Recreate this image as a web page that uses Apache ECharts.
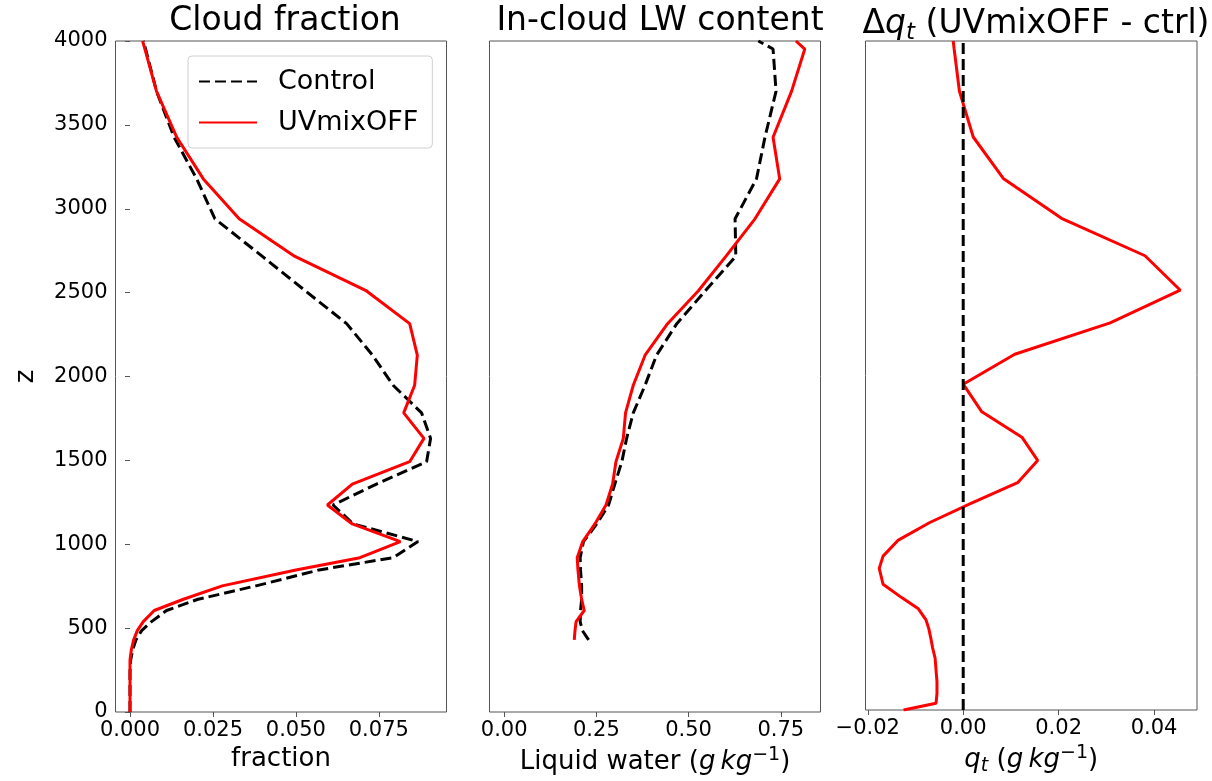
<!DOCTYPE html>
<html>
<head>
<meta charset="utf-8">
<script src="https://cdn.jsdelivr.net/npm/echarts@6/dist/echarts.min.js"></script>
<style>
  html, body { margin: 0; padding: 0; background: #ffffff; }
  #chart { width: 1212px; height: 781px; }
</style>
</head>
<body>
<div id="chart"></div>
<script>
// Model levels (m)
const heights = [0, 40, 100, 170, 240, 311, 370, 430, 485, 539, 605, 672, 752, 847, 920, 1016,
  1121, 1234, 1359, 1492, 1631, 1783, 1948, 2127, 2315, 2510, 2716, 2940, 3178, 3426, 3700, 3952, 4000];

// Cloud fraction
const cfControl = [0, 0, 0, 0, 0, 0.0002, 0.0008, 0.0018, 0.0035, 0.0065, 0.0110, 0.0205, 0.0380, 0.0570,
  0.0793, 0.0868, 0.0673, 0.0612, 0.0743, 0.0894, 0.0906, 0.0879, 0.0793, 0.0731, 0.0653, 0.0529,
  0.0399, 0.0256, 0.0201, 0.0133, 0.0080, 0.0047, 0.0040];
const cfUVmixOFF = [0, 0, 0, 0, 0, 0.0000, 0.0004, 0.0011, 0.0022, 0.0040, 0.0073, 0.0161, 0.0278, 0.0500,
  0.0693, 0.0815, 0.0670, 0.0595, 0.0670, 0.0843, 0.0886, 0.0825, 0.0858, 0.0866, 0.0843, 0.0713,
  0.0497, 0.0329, 0.0221, 0.0141, 0.0080, 0.0045, 0.0038];

// In-cloud liquid water (g/kg), undefined below cloud base
const lwControl = [null, null, null, null, null, null, null, 0.229, 0.212, 0.206, 0.207, 0.210, 0.210, 0.207,
  0.206, 0.215, 0.251, 0.283, 0.300, 0.319, 0.332, 0.350, 0.382, 0.413, 0.468, 0.545,
  0.628, 0.626, 0.684, 0.707, 0.737, 0.729, 0.689];
const lwUVmixOFF = [null, null, null, null, null, null, null, 0.190, 0.192, 0.195, 0.217, 0.210, 0.204, 0.200,
  0.198, 0.213, 0.246, 0.276, 0.294, 0.303, 0.323, 0.329, 0.350, 0.382, 0.443, 0.526,
  0.601, 0.680, 0.747, 0.729, 0.779, 0.815, 0.791];

// Total water difference UVmixOFF - ctrl (g/kg)
const dqtDiff = [-0.0125, -0.0057, -0.0055, -0.0055, -0.0057, -0.0059, -0.0064, -0.0068, -0.0072, -0.0078,
  -0.0094, -0.0129, -0.0168, -0.0176, -0.0168, -0.0136, -0.0070, 0.0015, 0.0114, 0.0156, 0.0123,
  0.0039, 0.0000, 0.0108, 0.0308, 0.0455, 0.0381, 0.0206, 0.0084, 0.0021, -0.0008, -0.0019, -0.0021];
const dqtZero = heights.map(() => 0);

// Tick labels
const zTicks = [0, 500, 1000, 1500, 2000, 2500, 3000, 3500, 4000];
const cfTicks = [0, 0.025, 0.05, 0.075];
const lwTicks = [0, 0.25, 0.5, 0.75];
const dqTicks = [-0.02, 0, 0.02, 0.04];

const FONT = 'DejaVu Sans';
const pairs = vals => heights.map((h, i) => vals[i] == null ? null : [vals[i], h]).filter(Boolean);
const fmt = d => v => {
  const s = Math.abs(v) < 1e-12 ? (0).toFixed(d) : v.toFixed(d);
  return s.replace('-', '\u2212');
};

const gridBox = { show: true, borderColor: '#555', borderWidth: 1, backgroundColor: 'transparent' };
const grids = [
  Object.assign({ left: 115.5, top: 41, width: 331, height: 671 }, gridBox),
  Object.assign({ left: 489.5, top: 41, width: 331, height: 671 }, gridBox),
  Object.assign({ left: 865.5, top: 41, width: 331.5, height: 671 }, gridBox)
];

const NAME_SIZE = 26;
const nameRich = {
  n: { fontFamily: FONT, fontSize: NAME_SIZE, color: '#000', lineHeight: 32 },
  i: { fontFamily: FONT, fontSize: NAME_SIZE, fontStyle: 'italic', color: '#000', lineHeight: 32 },
  sup: { fontFamily: FONT, fontSize: 19, color: '#000', verticalAlign: 'top', lineHeight: 32 },
  sub: { fontFamily: FONT, fontSize: 19, fontStyle: 'italic', color: '#000', verticalAlign: 'bottom', lineHeight: 32 }
};

function xAxis(gridIndex, min, max, ticks, digits, name) {
  return {
    type: 'value', gridIndex, min, max,
    axisLine: { show: false },
    splitLine: { show: false },
    axisTick: { show: true, length: 5, customValues: ticks, lineStyle: { color: '#555', width: 1 } },
    axisLabel: { customValues: ticks, formatter: fmt(digits), margin: 8, fontFamily: FONT, fontSize: 21, color: '#000' },
    name, nameLocation: 'middle', nameGap: 34,
    nameTextStyle: { rich: nameRich, fontFamily: FONT, fontSize: NAME_SIZE, color: '#000' }
  };
}

function yAxis(gridIndex, labelled) {
  return {
    type: 'value', gridIndex, min: 0, max: 4000, interval: 500,
    axisLine: { show: false },
    splitLine: { show: false },
    axisTick: { show: labelled, length: 5, customValues: zTicks, lineStyle: { color: '#555', width: 1 } },
    axisLabel: {
      show: labelled, customValues: zTicks, margin: 8, formatter: v => String(Math.round(v)),
      fontFamily: FONT, fontSize: 21, color: '#000'
    },
    name: labelled ? 'z' : '', nameLocation: 'middle', nameGap: 76, nameRotate: 90,
    nameTextStyle: { fontFamily: FONT, fontSize: NAME_SIZE, color: '#000' }
  };
}

const dashed = { color: '#000', width: 3, type: [11, 5] };
const solid = { color: '#ff0000', width: 3, type: 'solid' };

function line(name, xi, data, style, z) {
  return {
    name, type: 'line', xAxisIndex: xi, yAxisIndex: xi, data,
    symbol: 'none', showSymbol: false, animation: false, silent: true,
    lineStyle: style, itemStyle: { color: style.color }, z
  };
}

const TITLE_SIZE = 33;
const titleStyle = { fontFamily: FONT, fontSize: TITLE_SIZE, fontWeight: 'normal', color: '#000' };

const option = {
  backgroundColor: '#ffffff',
  animation: false,
  title: [
    { text: 'Cloud fraction', left: 280, top: 0, textAlign: 'center', textStyle: titleStyle },
    { text: 'In-cloud LW content', left: 655, top: 0, textAlign: 'center', textStyle: titleStyle },
    {
      text: '{n|\u0394}{i|q}{sub|t}{n| (UVmixOFF - ctrl)}', left: 1031, top: -2, textAlign: 'center',
      textStyle: {
        fontFamily: FONT, fontSize: TITLE_SIZE, fontWeight: 'normal', color: '#000',
        rich: {
          n: { fontFamily: FONT, fontSize: TITLE_SIZE, fontWeight: 'normal', color: '#000', lineHeight: 42 },
          i: { fontFamily: FONT, fontSize: TITLE_SIZE, fontWeight: 'normal', fontStyle: 'italic', color: '#000', lineHeight: 42 },
          sub: { fontFamily: FONT, fontSize: 23, fontWeight: 'normal', fontStyle: 'italic', color: '#000', verticalAlign: 'bottom', lineHeight: 42 }
        }
      }
    }
  ],
  legend: {
    data: ['Control', 'UVmixOFF'],
    orient: 'vertical', left: 188, top: 56,
    itemWidth: 58, itemHeight: 14, itemGap: 14,
    padding: [12, 14, 12, 10],
    backgroundColor: '#ffffff', borderColor: '#d0d0d0', borderWidth: 1, borderRadius: 4,
    itemStyle: { opacity: 0 },
    textStyle: { fontFamily: FONT, fontSize: 27, color: '#000', padding: [0, 0, 0, 16] },
    selectedMode: false
  },
  grid: grids,
  xAxis: [
    xAxis(0, -0.00437, 0.0954, cfTicks, 3, 'fraction'),
    xAxis(1, -0.0398, 0.8576, lwTicks, 2, '{n|Liquid water (}{i|g\u2009kg}{sup|\u22121}{n|)}'),
    xAxis(2, -0.02048, 0.0490, dqTicks, 2, '{i|q}{sub|t}{n| (}{i|g\u2009kg}{sup|\u22121}{n|)}')
  ],
  yAxis: [yAxis(0, true), yAxis(1, false), yAxis(2, false)],
  series: [
    line('Control', 0, pairs(cfControl), dashed, 2),
    line('UVmixOFF', 0, pairs(cfUVmixOFF), solid, 3),
    line('Control', 1, pairs(lwControl), dashed, 2),
    line('UVmixOFF', 1, pairs(lwUVmixOFF), solid, 3),
    line('UVmixOFF', 2, pairs(dqtDiff), solid, 2),
    line('Control', 2, pairs(dqtZero), dashed, 3)
  ]
};

const chart = echarts.init(document.getElementById('chart'), null, { renderer: 'canvas' });
chart.setOption(option);
</script>
</body>
</html>
